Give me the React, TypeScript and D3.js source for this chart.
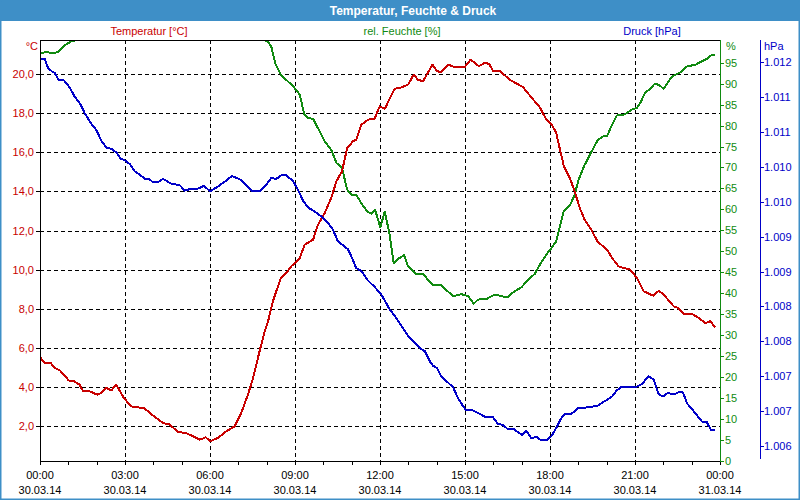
import React, { useEffect } from 'react';
import * as d3 from 'd3';

// ---- Data (hours since 30.03.14 00:00, value) ----
const temperature: [number, number][] = [
  [0.0, 5.53], [0.17, 5.24], [0.38, 5.24], [0.52, 4.98], [0.70, 4.86], [0.87, 4.61], [1.01, 4.35], [1.20, 4.30],
  [1.40, 4.13], [1.52, 3.79], [1.75, 3.79], [2.02, 3.62], [2.16, 3.70], [2.34, 3.96], [2.52, 3.84], [2.69, 4.13],
  [2.96, 3.45], [3.22, 3.02], [3.46, 2.97], [3.67, 2.94], [3.99, 2.55], [4.34, 2.17], [4.58, 2.09], [4.87, 1.71],
  [5.16, 1.66], [5.40, 1.49], [5.64, 1.32], [5.85, 1.44], [6.01, 1.24], [6.28, 1.41], [6.58, 1.75], [6.87, 2.00],
  [7.10, 2.68], [7.34, 3.62], [7.52, 4.47], [7.75, 5.84], [7.93, 6.86], [8.05, 7.37], [8.22, 8.39], [8.50, 9.58],
  [8.69, 9.84], [8.87, 10.18], [9.17, 10.60], [9.34, 11.28], [9.64, 11.54], [9.81, 12.30], [10.05, 12.90],
  [10.28, 13.67], [10.46, 14.52], [10.66, 15.03], [10.84, 16.22], [11.05, 16.57], [11.16, 16.65], [11.34, 17.41],
  [11.58, 17.67], [11.81, 17.72], [11.99, 18.35], [12.17, 18.23], [12.52, 19.25], [12.70, 19.29], [12.99, 19.46],
  [13.19, 19.97], [13.34, 19.71], [13.52, 19.63], [13.85, 20.48], [14.02, 20.14], [14.16, 20.11], [14.40, 20.48],
  [14.64, 20.36], [14.99, 20.36], [15.20, 20.74], [15.49, 20.40], [15.70, 20.57], [15.85, 20.52], [15.99, 20.17],
  [16.22, 20.17], [16.58, 19.71], [17.05, 19.33], [17.34, 18.81], [17.64, 18.30], [17.87, 17.67], [18.05, 17.45],
  [18.22, 16.99], [18.34, 16.22], [18.49, 15.29], [18.70, 14.69], [18.87, 14.01], [19.05, 13.16], [19.22, 12.56],
  [19.46, 12.05], [19.67, 11.46], [19.87, 11.20], [20.05, 10.95], [20.19, 10.60], [20.42, 10.18], [20.60, 10.09],
  [20.83, 10.01], [21.07, 9.58], [21.31, 8.90], [21.64, 8.68], [21.84, 8.93], [22.01, 8.73], [22.37, 8.13],
  [22.48, 8.08], [22.72, 7.76], [23.01, 7.74], [23.25, 7.54], [23.48, 7.28], [23.66, 7.37], [23.83, 7.06],
];

const humidity: [number, number][] = [
  [0.0, 97.3], [0.22, 97.5], [0.46, 97.3], [0.64, 97.5], [0.87, 99.1], [1.10, 100.1], [1.41, 100.5], [1.67, 100.7],
  [2.0, 101.5], [4.0, 101.5], [6.0, 101.5], [7.6, 101.5], [7.83, 100.7], [8.05, 99.9], [8.16, 98.9], [8.30, 94.9],
  [8.50, 92.1], [8.69, 90.9], [8.93, 89.4], [9.17, 87.4], [9.32, 82.8], [9.46, 81.8], [9.64, 81.6], [9.87, 78.6],
  [10.05, 76.2], [10.28, 74.2], [10.46, 71.1], [10.66, 69.9], [10.84, 64.7], [10.99, 63.5], [11.16, 63.5],
  [11.34, 61.5], [11.55, 59.5], [11.69, 59.0], [11.83, 59.9], [12.01, 55.7], [12.17, 59.5], [12.34, 54.0],
  [12.48, 47.2], [12.64, 48.2], [12.85, 49.1], [12.99, 46.4], [13.28, 44.6], [13.52, 44.6], [13.85, 42.0],
  [14.16, 41.9], [14.58, 39.3], [14.87, 39.8], [15.11, 39.3], [15.31, 37.5], [15.46, 38.5], [15.75, 38.6],
  [16.05, 39.7], [16.49, 39.0], [16.75, 40.5], [16.99, 41.4], [17.22, 43.2], [17.46, 44.6], [17.64, 46.8],
  [17.87, 49.2], [18.05, 50.8], [18.22, 52.4], [18.34, 55.6], [18.49, 59.7], [18.70, 60.9], [18.87, 63.5],
  [19.01, 67.1], [19.20, 70.3], [19.46, 73.7], [19.69, 76.6], [19.87, 77.4], [20.01, 77.4], [20.19, 80.2],
  [20.36, 82.4], [20.54, 82.4], [20.72, 83.0], [20.89, 83.8], [21.07, 84.2], [21.19, 85.4], [21.36, 87.9],
  [21.52, 88.6], [21.70, 90.0], [21.84, 89.7], [22.01, 88.8], [22.31, 91.7], [22.60, 92.7], [22.84, 94.1],
  [23.13, 94.5], [23.36, 95.3], [23.54, 95.9], [23.68, 96.7], [23.83, 96.8],
];

const pressure: [number, number][] = [
  [0.0, 1011.85], [0.17, 1011.85], [0.28, 1011.72], [0.42, 1011.67], [0.52, 1011.65], [0.66, 1011.54],
  [0.85, 1011.54], [1.05, 1011.44], [1.22, 1011.31], [1.44, 1011.19], [1.58, 1011.07], [1.79, 1010.93],
  [1.99, 1010.83], [2.16, 1010.68], [2.34, 1010.58], [2.52, 1010.56], [2.69, 1010.51], [2.85, 1010.42],
  [3.01, 1010.39], [3.17, 1010.34], [3.34, 1010.24], [3.52, 1010.19], [3.70, 1010.13], [3.85, 1010.13],
  [3.99, 1010.08], [4.16, 1010.08], [4.34, 1010.13], [4.63, 1010.06], [4.93, 1010.04], [5.11, 1009.96],
  [5.34, 1009.99], [5.58, 1009.99], [5.78, 1010.03], [6.01, 1009.95], [6.28, 1010.02], [6.52, 1010.09],
  [6.78, 1010.17], [7.07, 1010.12], [7.26, 1010.05], [7.46, 1009.96], [7.78, 1009.96], [7.99, 1010.05],
  [8.16, 1010.14], [8.34, 1010.13], [8.52, 1010.18], [8.69, 1010.18], [8.93, 1010.10], [9.11, 1009.97],
  [9.28, 1009.82], [9.46, 1009.72], [9.70, 1009.66], [9.93, 1009.59], [10.16, 1009.50], [10.34, 1009.40],
  [10.52, 1009.23], [10.69, 1009.18], [10.87, 1009.12], [11.01, 1009.00], [11.16, 1008.85], [11.34, 1008.81],
  [11.58, 1008.67], [11.81, 1008.58], [12.05, 1008.47], [12.34, 1008.26], [12.58, 1008.13], [12.81, 1007.99],
  [13.02, 1007.86], [13.22, 1007.78], [13.42, 1007.70], [13.58, 1007.66], [13.75, 1007.52], [13.87, 1007.45],
  [14.01, 1007.42], [14.16, 1007.30], [14.40, 1007.21], [14.58, 1007.14], [14.75, 1006.99], [14.93, 1006.87],
  [15.05, 1006.81], [15.28, 1006.81], [15.52, 1006.76], [15.70, 1006.72], [15.99, 1006.71], [16.16, 1006.62],
  [16.34, 1006.60], [16.49, 1006.55], [16.69, 1006.55], [16.87, 1006.50], [17.01, 1006.46], [17.16, 1006.52],
  [17.34, 1006.41], [17.52, 1006.43], [17.69, 1006.38], [17.87, 1006.38], [18.05, 1006.44], [18.22, 1006.56],
  [18.40, 1006.70], [18.52, 1006.76], [18.75, 1006.76], [18.99, 1006.84], [19.22, 1006.85], [19.46, 1006.86],
  [19.69, 1006.88], [19.87, 1006.93], [20.01, 1006.96], [20.19, 1007.01], [20.36, 1007.10], [20.54, 1007.15],
  [20.78, 1007.14], [21.01, 1007.14], [21.25, 1007.19], [21.48, 1007.30], [21.66, 1007.25], [21.84, 1007.04],
  [21.99, 1007.01], [22.16, 1007.06], [22.37, 1007.04], [22.60, 1007.08], [22.69, 1007.07], [22.84, 1006.91],
  [23.01, 1006.83], [23.19, 1006.74], [23.36, 1006.65], [23.54, 1006.64], [23.68, 1006.53], [23.83, 1006.53],
];

const timeTicks = [0, 3, 6, 9, 12, 15, 18, 21, 24];
const timeLabels = ['00:00', '03:00', '06:00', '09:00', '12:00', '15:00', '18:00', '21:00', '00:00'];
const dateLabels = ['30.03.14', '30.03.14', '30.03.14', '30.03.14', '30.03.14', '30.03.14', '30.03.14', '30.03.14', '31.03.14'];
const tempTicks = [2, 4, 6, 8, 10, 12, 14, 16, 18, 20];
const humTicks = [0, 5, 10, 15, 20, 25, 30, 35, 40, 45, 50, 55, 60, 65, 70, 75, 80, 85, 90, 95];
const pressTicks = [1011.8, 1011.3, 1010.8, 1010.3, 1009.8, 1009.3, 1008.8, 1008.3, 1007.8, 1007.3, 1006.8, 1006.3];

const RED = '#c80000';
const GREEN = '#108a10';
const BLUE = '#0000c8';
const BAR = '#3e8fc7';
const FONT = "'Liberation Sans', Arial, sans-serif";

export default function App() {
  useEffect(() => {
    document.body.style.margin = '0';
  }, []);

  const L = 40, R = 720, T = 40, B = 461;
  const x = d3.scaleLinear().domain([0, 24]).range([L, R]);
  const yT = d3.scaleLinear().domain([0.23, 21.74]).range([B, T]);
  const yH = d3.scaleLinear().domain([0, 100.4]).range([B, T]);
  const yP = d3.scaleLinear().domain([1006.085, 1012.12]).range([B, T]);

  const mk = (ys: d3.ScaleLinear<number, number>) =>
    d3.line<[number, number]>().x(d => x(d[0])).y(d => ys(d[1]));

  const minorTicks = d3.range(0, 25, 1);
  const fmtP = (v: number) => {
    const r = Math.round(v);
    return `${Math.floor(r / 1000)}.${String(r % 1000).padStart(3, '0')}`;
  };
  const fmtT = (v: number) => v.toFixed(1).replace('.', ',');

  return (
    <svg width={800} height={500} style={{ position: 'absolute', left: 0, top: 0, display: 'block' }}
      fontFamily={FONT} fontSize={11}>
      <defs>
        <clipPath id="plotclip">
          <rect x={L} y={T + 1} width={R - L} height={B - T - 1} />
        </clipPath>
      </defs>
      <rect x={0} y={0} width={800} height={500} fill="#ffffff" />
      <rect x={0} y={0} width={800} height={21} fill={BAR} />
      <rect x={0.5} y={0.5} width={799} height={499} fill="none" stroke={BAR} strokeWidth={2} />
      <text x={413} y={15} textAnchor="middle" fill="#ffffff" fontWeight="bold" fontSize={12}>
        Temperatur, Feuchte &amp; Druck
      </text>

      {/* series titles */}
      <text x={149} y={35} textAnchor="middle" fill={RED}>Temperatur [°C]</text>
      <text x={402} y={35} textAnchor="middle" fill={GREEN}>rel. Feuchte [%]</text>
      <text x={652} y={35} textAnchor="middle" fill={BLUE}>Druck [hPa]</text>

      {/* grid */}
      <g stroke="#000" strokeWidth={1} strokeDasharray="4,3" shapeRendering="crispEdges">
        {tempTicks.map(t => (
          <line key={'h' + t} x1={L} x2={R} y1={Math.round(yT(t)) + 0.5} y2={Math.round(yT(t)) + 0.5} />
        ))}
        {timeTicks.slice(1, -1).map(h => (
          <line key={'v' + h} x1={Math.round(x(h)) + 0.5} x2={Math.round(x(h)) + 0.5} y1={T} y2={B} />
        ))}
      </g>

      {/* data lines */}
      <g clipPath="url(#plotclip)" fill="none" strokeWidth={2} strokeLinejoin="round" shapeRendering="crispEdges">
        <path d={mk(yH)(humidity) || ''} stroke={GREEN} />
        <path d={mk(yT)(temperature) || ''} stroke={RED} />
        <path d={mk(yP)(pressure) || ''} stroke={BLUE} />
      </g>

      {/* plot frame */}
      <g stroke="#000" strokeWidth={1} shapeRendering="crispEdges">
        <line x1={L + 0.5} x2={L + 0.5} y1={T} y2={B + 1} />
        <line x1={L} x2={R} y1={T + 0.5} y2={T + 0.5} />
        <line x1={L} x2={R} y1={B + 0.5} y2={B + 0.5} />
        {minorTicks.map(h => (
          <line key={'mt' + h} x1={Math.round(x(h)) + 0.5} x2={Math.round(x(h)) + 0.5} y1={B} y2={B + 4} />
        ))}
        {tempTicks.map(t => (
          <line key={'tt' + t} x1={36} x2={L} y1={Math.round(yT(t)) + 0.5} y2={Math.round(yT(t)) + 0.5} />
        ))}
      </g>

      {/* left temperature axis */}
      <g fill={RED}>
        <text x={38} y={46} textAnchor="end" dominantBaseline="central">°C</text>
        {tempTicks.map(t => (
          <text key={'tl' + t} x={34} y={yT(t)} textAnchor="end" dominantBaseline="central">{fmtT(t)}</text>
        ))}
      </g>

      {/* humidity axis */}
      <g shapeRendering="crispEdges">
        <line x1={R + 0.5} x2={R + 0.5} y1={T} y2={B + 1} stroke={GREEN} strokeWidth={1} />
        {humTicks.map(v => (
          <line key={'ht' + v} x1={R} x2={R + 4} y1={Math.round(yH(v)) + 0.5} y2={Math.round(yH(v)) + 0.5} stroke={GREEN} />
        ))}
      </g>
      <g fill={GREEN}>
        <text x={726} y={46} dominantBaseline="central">%</text>
        {humTicks.map(v => (
          <text key={'hl' + v} x={725} y={yH(v)} dominantBaseline="central">{v}</text>
        ))}
      </g>

      {/* pressure axis */}
      <g shapeRendering="crispEdges">
        <line x1={760.5} x2={760.5} y1={T} y2={B - 2} stroke={BLUE} strokeWidth={1} />
        {pressTicks.map(v => (
          <line key={'pt' + v} x1={760} x2={764} y1={Math.round(yP(v)) + 0.5} y2={Math.round(yP(v)) + 0.5} stroke={BLUE} />
        ))}
      </g>
      <g fill={BLUE}>
        <text x={764} y={46} dominantBaseline="central">hPa</text>
        {pressTicks.map(v => (
          <text key={'pl' + v} x={764} y={yP(v)} dominantBaseline="central">{fmtP(v)}</text>
        ))}
      </g>

      {/* time axis labels */}
      <g fill="#000" textAnchor="middle">
        {timeTicks.map((h, i) => (
          <g key={'xl' + h}>
            <text x={x(h)} y={479}>{timeLabels[i]}</text>
            <text x={x(h)} y={494}>{dateLabels[i]}</text>
          </g>
        ))}
      </g>
    </svg>
  );
}
